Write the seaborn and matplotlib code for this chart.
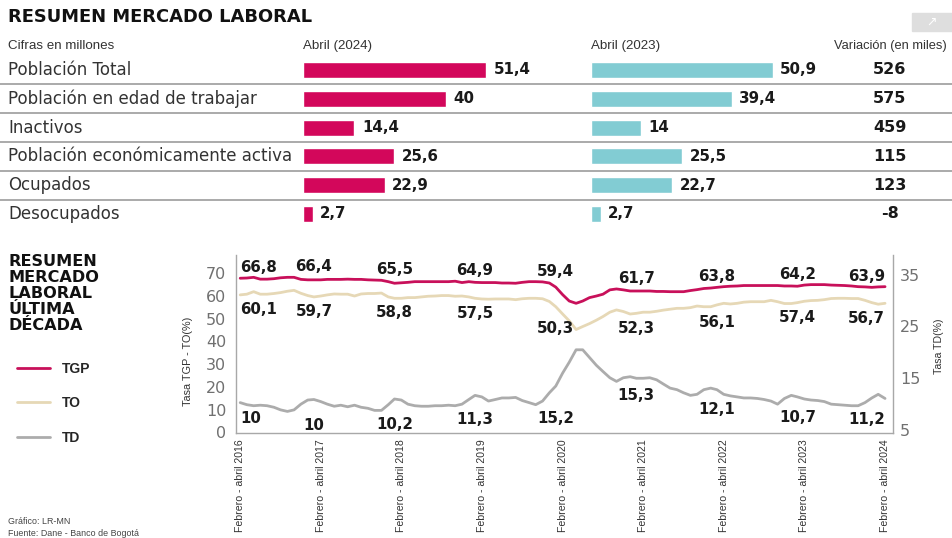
import pandas as pd
import numpy as np
import seaborn as sns
import matplotlib.pyplot as plt
from matplotlib import font_manager
from matplotlib.patches import Rectangle

# tabla superior (cifras en millones)
categorias = ['Población Total', 'Población en edad de trabajar', 'Inactivos',
              'Población económicamente activa', 'Ocupados', 'Desocupados']
abril_2024 = [51.4, 40, 14.4, 25.6, 22.9, 2.7]
abril_2023 = [50.9, 39.4, 14, 25.5, 22.7, 2.7]
variacion = ['526', '575', '459', '115', '123', '-8']

# serie trimestre movil feb-abr 2016 ... feb-abr 2024
tgp = [67.7, 67.8, 68.1, 67.3, 67.3, 67.5, 67.9, 68.1, 68.1, 67.2, 67.0, 67.0, 67.0,
       67.2, 67.2, 67.2, 67.3, 67.2, 67.2, 67.0, 66.9, 66.8, 66.2, 65.5, 65.7,
       65.9, 66.2, 66.2, 66.2, 66.2, 66.2, 66.2, 66.4, 65.8, 66.2, 65.9, 65.8,
       65.8, 65.8, 65.6, 65.6, 65.5, 65.9, 66.2, 66.2, 66.1, 65.6, 63.8, 60.5,
       57.7, 56.7, 57.7, 59.2, 59.9, 60.7, 62.6, 63.0, 62.6, 62.1, 62.1, 62.1,
       62.1, 61.9, 61.9, 61.8, 61.8, 61.8, 62.3, 62.7, 63.2, 63.4, 63.7, 64.0,
       64.2, 64.3, 64.5, 64.5, 64.5, 64.5, 64.5, 64.5, 64.3, 64.3, 64.2, 64.7,
       64.9, 64.9, 64.9, 64.7, 64.6, 64.5, 64.3, 64.0, 63.9, 63.7, 63.9, 64.0]
to = [60.4, 60.7, 61.8, 60.7, 60.7, 61.0, 61.4, 62.0, 62.4, 61.1, 60.1, 59.5, 59.9,
      60.4, 60.8, 60.7, 60.7, 59.9, 60.8, 61.0, 61.0, 61.2, 59.5, 58.9, 58.9,
      59.2, 59.2, 59.5, 59.8, 59.9, 60.1, 60.1, 59.8, 59.9, 59.5, 58.9, 58.6,
      58.5, 58.6, 58.6, 58.6, 58.3, 58.7, 58.9, 58.9, 58.7, 57.5, 55.2, 52.0,
      49.0, 45.2, 46.5, 47.8, 49.3, 50.9, 52.8, 53.8, 53.1, 52.0, 52.3, 52.8,
      52.8, 53.2, 53.7, 54.1, 54.5, 54.5, 54.8, 55.5, 55.2, 55.2, 56.0, 56.7,
      56.4, 56.7, 57.2, 57.4, 57.4, 57.4, 58.0, 57.4, 56.6, 56.6, 57.0, 57.6,
      57.9, 58.0, 58.3, 58.8, 58.9, 58.9, 58.8, 58.8, 58.0, 57.0, 56.3, 56.7]
td = [10.3, 9.9, 9.7, 9.8, 9.7, 9.4, 8.9, 8.6, 8.9, 10.0, 10.8, 10.9, 10.5,
      10.0, 9.6, 9.8, 9.5, 9.8, 9.4, 9.2, 8.8, 8.8, 9.9, 11.0, 10.8,
      10.0, 9.7, 9.6, 9.6, 9.7, 9.7, 9.8, 9.7, 10.0, 10.9, 11.7, 11.4,
      10.6, 10.9, 11.2, 11.2, 11.3, 10.7, 10.3, 9.9, 10.6, 12.2, 13.5, 16.0,
      18.1, 20.5, 20.5, 19.0, 17.5, 16.3, 15.1, 14.4, 15.1, 15.3, 15.0, 15.0,
      15.1, 14.7, 13.9, 13.1, 12.8, 12.2, 11.7, 11.9, 12.8, 13.1, 12.8, 11.9,
      11.6, 11.4, 11.2, 11.2, 11.1, 10.9, 10.6, 10.0, 11.1, 11.7, 11.4, 11.0,
      10.8, 10.7, 10.5, 10.0, 9.9, 9.8, 9.7, 9.7, 10.3, 11.2, 11.9, 11.1]
anios = list(range(2016, 2025))
etiquetas_tgp = ['66,8', '66,4', '65,5', '64,9', '59,4', '61,7', '63,8', '64,2', '63,9']
etiquetas_to = ['60,1', '59,7', '58,8', '57,5', '50,3', '52,3', '56,1', '57,4', '56,7']
etiquetas_td = ['10', '10', '10,2', '11,3', '15,2', '15,3', '12,1', '10,7', '11,2']

MAGENTA = '#d3075b'
CIAN = '#82ccd3'
C_TGP = '#c8105a'
C_TO = '#e6d8b6'
C_TD = '#acacac'

sns.set_style('white')
plt.rcParams['font.family'] = ['DejaVu Sans']
nombres = {f.name for f in font_manager.fontManager.ttflist}
NARROW = 'Liberation Sans' if 'Liberation Sans' in nombres else 'DejaVu Sans'

W, H = 952, 538
def fx(x): return x / W
def fy(y): return 1 - y / H
def fmt(v): return f'{v:g}'.replace('.', ',')

fig = plt.figure(figsize=(9.52, 5.38), dpi=100)

# ---------- tabla superior ----------
fig.text(fx(8), fy(17), 'RESUMEN MERCADO LABORAL', fontsize=12.9, weight='bold',
         va='center', color='#111')
fig.patches.append(Rectangle((fx(912), fy(31)), 40 / W, 18 / H, transform=fig.transFigure,
                             color='#dedede', zorder=0))
fig.text(fx(932), fy(22), '↗', color='white', fontsize=9, ha='center', va='center')
fig.text(fx(8), fy(46), 'Cifras en millones', family=NARROW, fontsize=9.6, va='center', color='#333')
fig.text(fx(303), fy(46), 'Abril (2024)', family=NARROW, fontsize=9.6, va='center', color='#333')
fig.text(fx(591), fy(46), 'Abril (2023)', family=NARROW, fontsize=9.6, va='center', color='#333')
fig.text(fx(947), fy(46), 'Variación (en miles)', family=NARROW, fontsize=9.3, va='center',
         ha='right', color='#333')

top, bottom = 55.6, 228.4
axt = fig.add_axes([0, fy(bottom), 1, (bottom - top) / H])
axt.set_xlim(0, 1)
axt.set_ylim(len(categorias) - 0.5, -0.5)
axt.axis('off')
axt.hlines(np.arange(len(categorias) - 1) + 0.5, 0, 1, color='#9c9c9c', lw=1.2)
for i, cat in enumerate(categorias):
    axt.text(fx(8), i, cat, va='center', fontsize=12, color='#333')
    axt.text(fx(890), i, variacion[i], va='center', ha='center', fontsize=11.5,
             weight='bold', color='#1a1a1a')

tabla = pd.DataFrame({'categoria': categorias, 'abril_2024': abril_2024, 'abril_2023': abril_2023})
for col, izq, color in [('abril_2024', 303, MAGENTA), ('abril_2023', 591, CIAN)]:
    axb = fig.add_axes([fx(izq), fy(bottom), 214 / W, (bottom - top) / H])
    sns.barplot(data=tabla, x=col, y='categoria', color=color, saturation=1,
                width=0.56, orient='h', ax=axb)
    axb.set_xlim(0, 60)
    axb.set_ylim(len(categorias) - 0.5, -0.5)
    axb.axis('off')
    for i, v in enumerate(tabla[col]):
        axb.annotate(fmt(v), (v, i), xytext=(5.5, 0), textcoords='offset points',
                     va='center', fontsize=10.8, weight='bold', color='#1a1a1a')

# ---------- serie ultima decada ----------
for j, linea in enumerate(['RESUMEN', 'MERCADO', 'LABORAL', 'ÚLTIMA', 'DÉCADA']):
    fig.text(fx(8), fy(261 + 16.1 * j), linea, fontsize=11.6, weight='bold', va='center', color='#111')

fechas = pd.date_range('2016-04-01', periods=len(tgp), freq='MS')
ax = fig.add_axes([fx(236), fy(432.5), (893 - 236) / W, (432.5 - 255) / H])
sns.lineplot(x=fechas, y=tgp, ax=ax, color=C_TGP, linewidth=2)
sns.lineplot(x=fechas, y=to, ax=ax, color=C_TO, linewidth=2)
ax2 = ax.twinx()
sns.lineplot(x=fechas, y=td, ax=ax2, color=C_TD, linewidth=2)

ax.set_ylim(0, 77.9)
ax2.set_ylim(4.53, 38.8)
ax.set_xlim(pd.Timestamp('2016-03-13'), pd.Timestamp('2024-05-07'))
ax.set_yticks(range(0, 71, 10))
ax2.set_yticks([5, 15, 25, 35])
ax.set_xticks(fechas[::12])
ax.set_xticklabels([f'Febrero - abril {a}' for a in anios], rotation=90,
                   family=NARROW, fontsize=7.6, color='#333')
ax.tick_params(axis='x', length=0, pad=5)
ax.tick_params(axis='y', length=0, pad=7, labelsize=11.5, labelcolor='#707070')
ax2.tick_params(axis='y', length=0, pad=5, labelsize=11.5, labelcolor='#707070')
ax.set_xlabel('')
ax.set_ylabel('')
ax2.set_ylabel('')
for s in ['top', 'right']:
    ax.spines[s].set_visible(False)
for s in ['top', 'left', 'bottom']:
    ax2.spines[s].set_visible(False)
for s in [ax.spines['left'], ax.spines['bottom'], ax2.spines['right']]:
    s.set_color('#a8a8a8')
    s.set_linewidth(1)

fig.text(fx(188), fy(361), 'Tasa TGP - TO(%)', rotation=90, family=NARROW, fontsize=7.8,
         ha='center', va='center', color='#333')
fig.text(fx(939), fy(346), 'Tasa TD(%)', rotation=90, family=NARROW, fontsize=7.6,
         ha='center', va='center', color='#333')


def rotular(eje, serie, textos, arriba, dy):
    n = len(textos)
    for k, txt in enumerate(textos):
        a = 0 if k == 0 else (len(serie) - 1 if k == n - 1 else 12 * k - 1)
        ventana = serie[max(a - 4, 0):a + 2]
        yv = max(ventana) if arriba else min(ventana)
        ha = 'left' if k == 0 else ('right' if k == n - 1 else 'center')
        eje.annotate(txt, (fechas[a], yv), xytext=(0, dy), textcoords='offset points',
                     ha=ha, va='bottom' if arriba else 'top', fontsize=10.8,
                     weight='bold', color='#1a1a1a')


rotular(ax, tgp, etiquetas_tgp, True, 2.2)
rotular(ax, to, etiquetas_to, False, -5)
rotular(ax2, td, etiquetas_td, False, -4.5)

handles = [ax.lines[0], ax.lines[1], ax2.lines[0]]
fig.legend(handles, ['TGP', 'TO', 'TD'], loc='upper left', bbox_to_anchor=(fx(4), fy(349)),
           frameon=False, handlelength=2.4, handletextpad=0.9, labelspacing=1.5,
           prop={'family': NARROW, 'weight': 'bold', 'size': 10})

fig.text(fx(8), fy(522), 'Gráfico: LR-MN', family=NARROW, fontsize=6.4, va='center', color='#444')
fig.text(fx(8), fy(534), 'Fuente: Dane - Banco de Bogotá', family=NARROW, fontsize=6.4,
         va='center', color='#444')

fig.savefig('out.png', dpi=100)
